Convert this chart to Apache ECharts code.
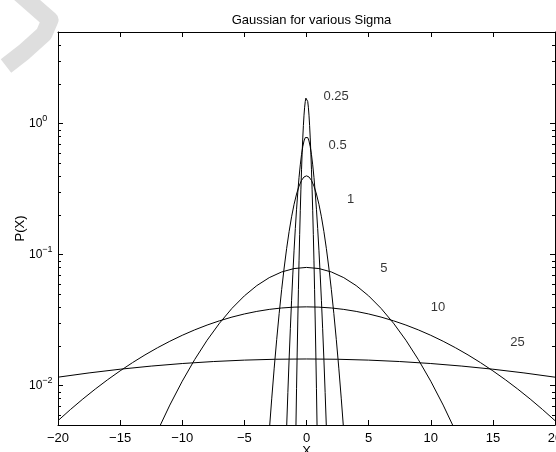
<!DOCTYPE html>
<html>
<head>
<meta charset="utf-8">
<title>Gaussian for various Sigma</title>
<script src="https://cdn.jsdelivr.net/npm/echarts@6/dist/echarts.min.js"></script>
<style>
  html, body { margin: 0; padding: 0; background: #fff; }
  #chart { width: 556px; height: 452px; }
</style>
</head>
<body>
<div id="chart"></div>
<script>
// Normal densities P(X) for several sigma values, sampled on each curve's visible span.
const sigma025X = [-0.9,-0.85,-0.8,-0.75,-0.7,-0.65,-0.6,-0.55,-0.5,-0.45,-0.4,-0.35,-0.3,-0.25,-0.2,-0.15,-0.1,-0.05,0,
  0.05,0.1,0.15,0.2,0.25,0.3,0.35,0.4,0.45,0.5,0.55,0.6,0.65,0.7,0.75,0.8,0.85,0.9];
const sigma025Y = [0.002448,0.004929,0.009536,0.017728,0.031660,0.054332,0.089580,0.141900,0.215964,0.315800,0.443684,0.598908,0.776744,0.967884,1.158764,1.332900,1.473080,1.564172,1.595769,
  1.564172,1.473080,1.332900,1.158764,0.967884,0.776744,0.598908,0.443684,0.315800,0.215964,0.141900,0.089580,0.054332,0.031660,0.017728,0.009536,0.004929,0.002448];

const sigma05X = [-1.6,-1.5,-1.4,-1.3,-1.2,-1.1,-1.0,-0.9,-0.8,-0.7,-0.6,-0.5,-0.4,-0.3,-0.2,-0.1,0,
  0.1,0.2,0.3,0.4,0.5,0.6,0.7,0.8,0.9,1.0,1.1,1.2,1.3,1.4,1.5,1.6];
const sigma05Y = [0.004768,0.008864,0.015830,0.027166,0.044789,0.070949,0.107982,0.157900,0.221842,0.299455,0.388372,0.483941,0.579383,0.666449,0.736540,0.782086,0.797885,
  0.782086,0.736540,0.666449,0.579383,0.483941,0.388372,0.299455,0.221842,0.157900,0.107982,0.070949,0.044789,0.027166,0.015830,0.008864,0.004768];

const sigma1X = [-3.2,-3.0,-2.8,-2.6,-2.4,-2.2,-2.0,-1.8,-1.6,-1.4,-1.2,-1.0,-0.8,-0.6,-0.4,-0.2,0,
  0.2,0.4,0.6,0.8,1.0,1.2,1.4,1.6,1.8,2.0,2.2,2.4,2.6,2.8,3.0,3.2];
const sigma1Y = [0.002384,0.004432,0.007915,0.013583,0.022395,0.035475,0.053991,0.078950,0.110921,0.149727,0.194186,0.241971,0.289691,0.333224,0.368270,0.391043,0.398942,
  0.391043,0.368270,0.333224,0.289691,0.241971,0.194186,0.149727,0.110921,0.078950,0.053991,0.035475,0.022395,0.013583,0.007915,0.004432,0.002384];

const sigma5X = [-12,-11,-10,-9,-8,-7,-6,-5,-4,-3,-2,-1,0,1,2,3,4,5,6,7,8,9,10,11,12];
const sigma5Y = [0.004479,0.007095,0.010798,0.015790,0.022184,0.029945,0.038837,0.048394,0.057938,0.066644,0.073653,0.078208,0.079788,
  0.078208,0.073653,0.066644,0.057938,0.048394,0.038837,0.029945,0.022184,0.015790,0.010798,0.007095,0.004479];

const sigma10X = [-20,-19,-18,-17,-16,-15,-14,-13,-12,-11,-10,-9,-8,-7,-6,-5,-4,-3,-2,-1,0,
  1,2,3,4,5,6,7,8,9,10,11,12,13,14,15,16,17,18,19,20];
const sigma10Y = [0.005399,0.006562,0.007895,0.009405,0.011092,0.012952,0.014973,0.017137,0.019419,0.021785,0.024197,0.026608,0.028969,0.031225,0.033322,0.035206,0.036827,0.038139,0.039104,0.039695,0.039894,
  0.039695,0.039104,0.038139,0.036827,0.035206,0.033322,0.031225,0.028969,0.026608,0.024197,0.021785,0.019419,0.017137,0.014973,0.012952,0.011092,0.009405,0.007895,0.006562,0.005399];

const sigma25X = [-20,-17.5,-15,-12.5,-10,-7.5,-5,-2.5,0,2.5,5,7.5,10,12.5,15,17.5,20];
const sigma25Y = [0.011588,0.012490,0.013329,0.014083,0.014731,0.015256,0.015642,0.015878,0.015958,
  0.015878,0.015642,0.015256,0.014731,0.014083,0.013329,0.012490,0.011588];

// Curve annotations (sigma values)
const labelTexts = ['0.25', '0.5', '1', '5', '10', '25'];
const labelX = [1.37, 1.78, 3.26, 5.93, 10.0, 16.4];
const labelY = [1.6, 0.68, 0.265, 0.079, 0.0398, 0.0215];

// Axis ranges and ticks
const xMin = -20, xMax = 20, xStep = 5;
const yMin = 0.005, yMax = 5;
const yMinorTicks = [0.006,0.007,0.008,0.009,
  0.02,0.03,0.04,0.05,0.06,0.07,0.08,0.09,
  0.2,0.3,0.4,0.5,0.6,0.7,0.8,0.9,
  2,3,4];

const FONT = '"Liberation Sans", Arial, Helvetica, sans-serif';

const pairs = (xs, ys) => xs.map((x, i) => [x, ys[i]]);
const curves = [
  [sigma025X, sigma025Y], [sigma05X, sigma05Y], [sigma1X, sigma1Y],
  [sigma5X, sigma5Y], [sigma10X, sigma10Y], [sigma25X, sigma25Y]
];

const minus = s => String(s).replace('-', '\u2212');

const axisLineStyle = { onZero: false, lineStyle: { color: '#000', width: 1 } };
const tickStyle = { show: true, inside: true, length: 5, lineStyle: { color: '#000', width: 1 } };

const chart = echarts.init(document.getElementById('chart'), null, { renderer: 'canvas' });

chart.setOption({
  animation: false,
  backgroundColor: '#fff',
  textStyle: { fontFamily: FONT },
  title: {
    text: 'Gaussian for various Sigma',
    left: 306.5,
    top: 9,
    textAlign: 'center',
    textStyle: { fontFamily: FONT, fontSize: 13, fontWeight: 'normal', color: '#000' }
  },
  graphic: [{
    type: 'polyline',
    silent: true,
    z: -10,
    shape: { points: [[18, -8], [50, 20], [44, 34], [24, 52], [6, 66]] },
    style: { stroke: '#dedede', lineWidth: 17, fill: null, lineJoin: 'round' }
  }],
  grid: { left: 58, right: 1, top: 32, bottom: 27, containLabel: false, outerBoundsMode: 'none' },
  xAxis: [{
    type: 'value', min: xMin, max: xMax, interval: xStep,
    position: 'bottom',
    name: 'X', nameLocation: 'middle', nameGap: 20, nameMoveOverlap: false,
    nameTextStyle: { fontFamily: FONT, fontSize: 13, color: '#000' },
    axisLine: axisLineStyle, axisTick: tickStyle,
    axisLabel: { fontFamily: FONT, fontSize: 13, color: '#000', margin: 7, formatter: v => minus(v) },
    splitLine: { show: false }
  }, {
    type: 'value', min: xMin, max: xMax, interval: xStep,
    position: 'top',
    axisLine: axisLineStyle, axisTick: tickStyle,
    axisLabel: { show: false }, splitLine: { show: false }
  }],
  yAxis: [{
    type: 'log', logBase: 10, min: yMin, max: yMax,
    position: 'left',
    name: 'P(X)', nameLocation: 'middle', nameGap: 31, nameMoveOverlap: false,
    nameTextStyle: { fontFamily: FONT, fontSize: 13, color: '#000' },
    axisLine: axisLineStyle, axisTick: tickStyle,
    axisLabel: {
      fontFamily: FONT, color: '#000', margin: 29, align: 'left',
      formatter: v => {
        const e = Math.log10(v);
        const r = Math.round(e);
        if (Math.abs(e - r) > 1e-6) return '';
        return '{b|10}{s|' + minus(r) + '}';
      },
      rich: {
        b: { fontFamily: FONT, fontSize: 12, color: '#000' },
        s: { fontFamily: FONT, fontSize: 9, color: '#000', padding: [0, 0, 10, 0] }
      }
    },
    splitLine: { show: false }
  }, {
    type: 'log', logBase: 10, min: yMin, max: yMax,
    position: 'right',
    axisLine: axisLineStyle, axisTick: tickStyle,
    axisLabel: { show: false }, splitLine: { show: false }
  }],
  series: [
    ...curves.map(([xs, ys]) => ({
      type: 'line',
      xAxisIndex: 0, yAxisIndex: 0,
      data: pairs(xs, ys),
      showSymbol: false,
      symbol: 'none',
      clip: true,
      silent: true,
      lineStyle: { color: '#000', width: 1 }
    })),
    {
      type: 'scatter',
      xAxisIndex: 0, yAxisIndex: 0,
      symbolSize: 0,
      silent: true,
      data: labelTexts.map((t, i) => ({ value: [labelX[i], labelY[i]], name: t })),
      label: {
        show: true, position: 'right', distance: 0,
        formatter: p => p.name,
        fontFamily: FONT, fontSize: 13, color: '#000'
      }
    },
    {
      // minor ticks of the log axis, on the left and right frame edges
      type: 'custom',
      xAxisIndex: 0, yAxisIndex: 0,
      silent: true,
      clip: false,
      data: yMinorTicks.map(v => [xMin, v]),
      renderItem: (params, api) => {
        const v = api.value(1);
        const l = api.coord([xMin, v]);
        const r = api.coord([xMax, v]);
        const y = Math.round(l[1]) + 0.5;
        return {
          type: 'group',
          children: [
            { type: 'line', shape: { x1: l[0], y1: y, x2: l[0] + 3, y2: y }, style: { stroke: '#000', lineWidth: 1 } },
            { type: 'line', shape: { x1: r[0] - 3, y1: y, x2: r[0], y2: y }, style: { stroke: '#000', lineWidth: 1 } }
          ]
        };
      }
    }
  ]
});
</script>
</body>
</html>
